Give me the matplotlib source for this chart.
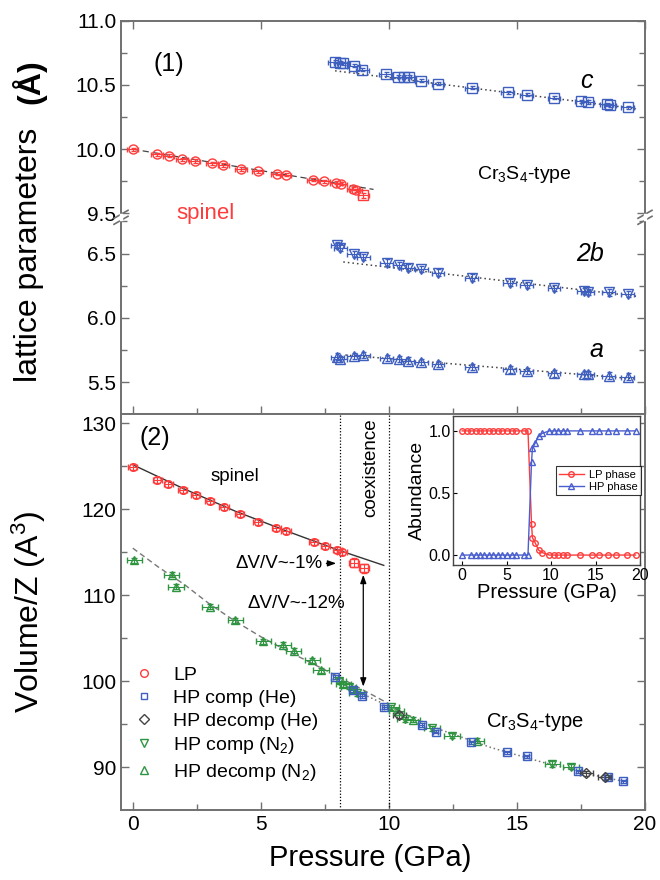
import matplotlib
matplotlib.use('Agg')
import matplotlib.pyplot as plt
from matplotlib.lines import Line2D
from matplotlib.ticker import MultipleLocator, FormatStrFormatter

plt.rcParams['font.family'] = ['Liberation Sans', 'DejaVu Sans']
plt.rcParams['mathtext.fontset'] = 'custom'
plt.rcParams['mathtext.rm'] = 'Liberation Sans'
plt.rcParams['mathtext.it'] = 'Liberation Sans:italic'
plt.rcParams['mathtext.bf'] = 'Liberation Sans:bold'

# ---------------- data: top panel (lattice parameters) ----------------
spinel_P = [0.0, 0.95, 1.4, 1.92, 2.42, 3.09, 3.54, 4.23, 4.88, 5.62, 5.97, 7.02, 7.48, 7.93, 8.14, 8.6, 8.72]
spinel_a = [10.0, 9.962, 9.95, 9.923, 9.908, 9.892, 9.877, 9.846, 9.828, 9.808, 9.803, 9.764, 9.751, 9.738, 9.731, 9.692, 9.682]
spinel_coex_P = [9.0]
spinel_coex_a = [9.641]
spinel_fit_P = [0.0, 9.4]
spinel_fit_a = [10.0, 9.687]

hp_P = [7.89, 8.1, 8.22, 8.63, 8.96, 9.87, 10.36, 10.6, 10.77, 11.27, 11.92, 13.24, 14.64, 15.38, 16.45, 17.52, 17.76, 18.5, 18.63, 19.33]
hp_c = [10.679, 10.674, 10.667, 10.649, 10.618, 10.585, 10.564, 10.564, 10.564, 10.533, 10.508, 10.477, 10.444, 10.423, 10.40, 10.372, 10.367, 10.349, 10.341, 10.328]
c_fit_P = [7.9, 19.65]
c_fit = [10.61, 10.315]

hp2_P = [7.98, 8.11, 8.63, 9.0, 9.92, 10.41, 10.74, 11.27, 11.92, 13.24, 14.72, 15.38, 16.45, 17.6, 17.76, 18.58, 19.33]
hp_2b = [6.565, 6.547, 6.495, 6.474, 6.43, 6.41, 6.392, 6.379, 6.353, 6.314, 6.275, 6.255, 6.234, 6.208, 6.203, 6.198, 6.185]
b_fit_P = [8.22, 19.65]
b_fit = [6.435, 6.169]

hp_a = [5.699, 5.681, 5.704, 5.712, 5.691, 5.681, 5.668, 5.66, 5.642, 5.621, 5.601, 5.59, 5.57, 5.562, 5.562, 5.552, 5.544]
a_fit_P = [8.3, 19.65]
a_fit = [5.712, 5.526]

# ---------------- data: bottom panel (volume) ----------------
lp_P = [0.0, 0.96, 1.39, 1.95, 2.46, 3.01, 3.56, 4.18, 4.87, 5.61, 5.98, 7.07, 7.52, 7.98, 8.17]
lp_V = [124.95, 123.4, 122.94, 122.24, 121.66, 120.97, 120.3, 119.45, 118.56, 117.9, 117.48, 116.24, 115.77, 115.27, 115.03]
lp_coex_P = [8.63, 9.02]
lp_coex_V = [113.8, 113.14]

he_comp_P = [7.9, 8.6, 8.96, 9.82, 11.28, 11.83, 13.22, 14.61, 15.38, 17.39, 18.54, 19.15]
he_comp_V = [100.54, 98.99, 98.33, 97.05, 94.96, 94.15, 92.91, 91.74, 91.28, 89.53, 88.9, 88.37]
he_dec_P = [10.4, 17.71, 18.43]
he_dec_V = [96.1, 89.3, 88.84]
n2_comp_P = [8.04, 8.43, 8.74, 10.1, 10.63, 11.69, 12.46, 16.38, 17.11]
n2_comp_V = [100.08, 99.38, 98.6, 96.98, 95.6, 94.57, 93.68, 90.39, 90.08]
n2_dec_P = [0.06, 1.52, 1.69, 3.01, 4.01, 5.1, 5.86, 6.28, 7.01, 7.35, 8.22, 10.3, 10.93, 13.43]
n2_dec_V = [114.1, 112.4, 111.0, 108.67, 107.1, 104.65, 104.26, 103.57, 102.48, 101.32, 99.69, 96.6, 95.54, 93.1]

lp_fit_P = [0, 2, 4, 6, 8, 9.8]
lp_fit_V = [125.2, 122.4, 119.8, 117.5, 115.3, 113.5]
hp_fit1_P = [0, 1, 2, 3, 4, 5, 6, 7, 8, 9, 10]
hp_fit1_V = [115.5, 113.3, 111.3, 109.0, 107.0, 105.2, 103.6, 102.1, 100.6, 99.0, 97.4]
hp_fit2_P = [8.1, 10, 12, 14, 16, 18, 19.3]
hp_fit2_V = [99.8, 97.1, 94.4, 92.3, 90.6, 89.1, 88.3]

# ---------------- data: inset (abundance) ----------------
ab_lp_P = [0, 0.5, 1.0, 1.5, 2.0, 2.5, 3.0, 3.5, 4.0, 4.5, 5.0, 5.6, 6.0, 7.0, 7.4, 7.8, 7.9, 8.2, 8.6, 9.0,
           9.8, 10.3, 10.8, 11.3, 11.8, 13.2, 14.6, 15.4, 16.4, 17.3, 18.5, 19.5]
ab_lp = [1, 1, 1, 1, 1, 1, 1, 1, 1, 1, 1, 1, 1, 1, 1, 0.25, 0.14, 0.10, 0.04, 0.02,
         0, 0, 0, 0, 0, 0, 0, 0, 0, 0, 0, 0]
ab_hp_P = [0, 1.0, 1.5, 2.0, 2.5, 3.0, 3.5, 4.0, 4.5, 5.0, 5.6, 6.0, 7.0, 7.4, 7.8, 7.9, 8.2, 8.6, 9.0,
           9.8, 10.3, 10.8, 11.3, 11.8, 13.2, 14.6, 15.4, 16.4, 17.3, 18.5, 19.5]
ab_hp = [0, 0, 0, 0, 0, 0, 0, 0, 0, 0, 0, 0, 0, 0, 0.75, 0.86, 0.90, 0.96, 0.98,
         1, 1, 1, 1, 1, 1, 1, 1, 1, 1, 1, 1]

coex_lines = [8.1, 10.0]

# ---------------- styling ----------------
RED = '#ff3b3b'
BLUE = '#3f5fbf'
GREEN = '#2e9440'
DARK = '#444444'
SPINE = '#707070'

W, H = 660.0, 880.0
fig = plt.figure(figsize=(6.6, 8.8), dpi=100)

def fx(px):
    return px / W

def fy(py):
    return 1 - py / H

L, R = 121, 645
T0, BRK, MID, BOT = 20.7, 217.3, 414.0, 810.0
XL = (-0.46, 20.0)

ax_up = fig.add_axes([fx(L), fy(BRK), fx(R) - fx(L), fy(T0) - fy(BRK)])
ax_lo = fig.add_axes([fx(L), fy(MID), fx(R) - fx(L), fy(BRK) - fy(MID)])
ax_v = fig.add_axes([fx(L), fy(BOT), fx(R) - fx(L), fy(MID) - fy(BOT)])

for ax in (ax_up, ax_lo, ax_v):
    ax.set_xlim(*XL)
    for s in ax.spines.values():
        s.set_color(SPINE)
        s.set_linewidth(1.4)
    ax.xaxis.set_major_locator(MultipleLocator(5))
    ax.xaxis.set_minor_locator(MultipleLocator(2.5))
    ax.tick_params(which='both', direction='in', color=SPINE, width=1.0, labelsize=15, right=True)
    ax.tick_params(which='major', length=6)
    ax.tick_params(which='minor', length=4)

ax_up.set_ylim(9.47, 11.0)
ax_lo.set_ylim(5.254, 6.782)
ax_v.set_ylim(85.05, 131.1)

ax_up.spines['bottom'].set_visible(False)
ax_lo.spines['top'].set_visible(False)
ax_up.tick_params(axis='x', which='both', bottom=False, top=True, labelbottom=False)
ax_up.tick_params(axis='x', which='minor', top=False)
ax_lo.tick_params(axis='x', which='both', bottom=True, top=False, labelbottom=False)
ax_v.tick_params(axis='x', which='both', top=False, bottom=True, labelbottom=True)

for ax in (ax_up, ax_lo):
    ax.yaxis.set_major_locator(MultipleLocator(0.5))
    ax.yaxis.set_minor_locator(MultipleLocator(0.25))
    ax.yaxis.set_major_formatter(FormatStrFormatter('%.1f'))
ax_v.yaxis.set_major_locator(MultipleLocator(10))
ax_v.yaxis.set_minor_locator(MultipleLocator(5))

# ---------------- top panel ----------------
eb = dict(capsize=1.8, elinewidth=0.8, capthick=0.8, mew=1.0, mfc='none', ms=6.5, ls='none')
ax_up.plot(spinel_fit_P, spinel_fit_a, color=DARK, ls=(0, (5, 3)), lw=0.9)
ax_up.errorbar(spinel_P, spinel_a, xerr=0.22, yerr=0.012, fmt='o', color=RED, **eb)
ax_up.errorbar(spinel_coex_P, spinel_coex_a, xerr=0.22, yerr=0.02, fmt='s', color=RED, **eb)
ax_up.plot(c_fit_P, c_fit, color=DARK, ls=(0, (1, 2)), lw=1.1)
ax_up.errorbar(hp_P, hp_c, xerr=0.25, yerr=0.012, fmt='s', color=BLUE, **eb)
ax_lo.plot(b_fit_P, b_fit, color=DARK, ls=(0, (1, 2)), lw=1.1)
ax_lo.errorbar(hp2_P, hp_2b, xerr=0.25, yerr=0.025, fmt='v', color=BLUE, **eb)
ax_lo.plot(a_fit_P, a_fit, color=DARK, ls=(0, (1, 2)), lw=1.1)
ax_lo.errorbar(hp2_P, hp_a, xerr=0.25, yerr=0.025, fmt='^', color=BLUE, **eb)

ax_up.text(1.4, 10.66, '(1)', fontsize=18, ha='center', va='center')
ax_up.text(17.7, 10.53, 'c', fontsize=18, style='italic', ha='center', va='center')
ax_up.text(15.3, 9.80, 'Cr$_3$S$_4$-type', fontsize=14, ha='center', va='center')
ax_lo.text(17.85, 6.50, '2b', fontsize=18, style='italic', ha='center', va='center')
ax_lo.text(18.1, 5.75, 'a', fontsize=18, style='italic', ha='center', va='center')
fig.text(fx(205), fy(213), 'spinel', color=RED, fontsize=16, ha='center', va='center')

# break marks
for xp in (L, R):
    for dy in (-3, 3):
        fig.add_artist(Line2D([fx(xp - 7), fx(xp + 7)], [fy(BRK + dy + 4), fy(BRK + dy - 4)],
                              color=SPINE, lw=1.2))
    fig.add_artist(Line2D([fx(xp), fx(xp)], [fy(BRK - 2), fy(BRK + 2)], color='white', lw=2.5))

# ---------------- bottom panel ----------------
for xc in coex_lines:
    ax_v.axvline(xc, color='black', ls=(0, (1, 1.5)), lw=0.9)
ax_v.plot(lp_fit_P, lp_fit_V, color='#333333', lw=1.0)
ax_v.plot(hp_fit1_P, hp_fit1_V, color='#777777', ls=(0, (4, 2.5)), lw=1.0)
ax_v.plot(hp_fit2_P, hp_fit2_V, color='#777777', ls=(0, (1, 1.8)), lw=1.1)

eb2 = dict(capsize=2.0, elinewidth=0.8, capthick=0.8, mew=1.0, mfc='none', ms=5.5, ls='none')
ax_v.errorbar(lp_P, lp_V, xerr=0.18, yerr=0.35, fmt='o', color=RED, **eb2)
ax_v.errorbar(lp_coex_P, lp_coex_V, xerr=0.2, yerr=0.5, fmt='s', color=RED, **eb2)
ax_v.errorbar(n2_dec_P, n2_dec_V, xerr=0.3, yerr=0.3, fmt='^', color=GREEN, **eb2)
ax_v.errorbar(n2_comp_P, n2_comp_V, xerr=0.3, yerr=0.3, fmt='v', color=GREEN, **eb2)
ax_v.errorbar(he_comp_P, he_comp_V, xerr=0.1, yerr=0.2, fmt='s', color=BLUE, **eb2)
ax_v.errorbar(he_dec_P, he_dec_V, xerr=0.25, yerr=0.3, fmt='D', color=DARK, **eb2)

ax_v.text(0.87, 128.3, '(2)', fontsize=18, ha='center', va='center')
ax_v.text(4.0, 123.8, 'spinel', fontsize=13.5, ha='center', va='center')
ax_v.text(9.3, 124.8, 'coexistence', fontsize=13.5, rotation=90, ha='center', va='center')
ax_v.text(7.4, 113.73, 'ΔV/V~-1%', fontsize=13.5, ha='right', va='center')
ax_v.annotate('', xy=(8.05, 113.73), xytext=(7.45, 113.73),
              arrowprops=dict(arrowstyle='-|>,head_length=0.5,head_width=0.18', color='black', lw=0.9))
ax_v.text(6.4, 109.07, 'ΔV/V~-12%', fontsize=13.5, ha='center', va='center')
ax_v.annotate('', xy=(9.0, 99.4), xytext=(9.0, 112.4),
              arrowprops=dict(arrowstyle='<|-|>,head_length=0.5,head_width=0.18', color='black', lw=0.9,
                              shrinkA=0, shrinkB=0))
ax_v.text(15.7, 95.3, 'Cr$_3$S$_4$-type', fontsize=14.5, ha='center', va='center')

handles = [
    Line2D([], [], marker='o', ls='none', mfc='none', mec=RED, ms=5.5),
    Line2D([], [], marker='s', ls='none', mfc='none', mec=BLUE, ms=5),
    Line2D([], [], marker='D', ls='none', mfc='none', mec=DARK, ms=5),
    Line2D([], [], marker='v', ls='none', mfc='none', mec=GREEN, ms=5.5),
    Line2D([], [], marker='^', ls='none', mfc='none', mec=GREEN, ms=5.5),
]
labels = ['LP', 'HP comp (He)', 'HP decomp (He)', 'HP comp (N$_2$)', 'HP decomp (N$_2$)']
ax_v.legend(handles, labels, loc='lower left', bbox_to_anchor=(0.0, 0.035), frameon=False,
            fontsize=14, handlelength=1.0, handletextpad=1.0, labelspacing=0.28, borderaxespad=0.3)

ax_v.set_xlabel('Pressure (GPa)', fontsize=21, labelpad=7)
ax_v.xaxis.set_label_coords(0.475, -0.085)

fig.text(fx(29), fy(255), 'lattice parameters', fontsize=23, rotation=90, ha='center', va='center')
fig.text(fx(29), fy(82), '(Å)', fontsize=23, rotation=90, ha='center', va='center', fontweight='bold')
fig.text(fx(29), fy(612), 'Volume/Z (A$^3$)', fontsize=23, rotation=90, ha='center', va='center')

# ---------------- inset ----------------
ax_in = fig.add_axes([fx(453.3), fy(565), fx(640) - fx(453.3), fy(416) - fy(565)])
ax_in.plot(ab_lp_P, ab_lp, color=RED, marker='o', mfc='none', ms=4, lw=1.0, label='LP phase')
ax_in.plot(ab_hp_P, ab_hp, color='#4a5fcf', marker='^', mfc='none', ms=4, lw=1.0, label='HP phase')
ax_in.set_xlim(-1, 20)
ax_in.set_ylim(-0.08, 1.12)
ax_in.xaxis.set_major_locator(MultipleLocator(5))
ax_in.yaxis.set_major_locator(MultipleLocator(0.5))
ax_in.yaxis.set_major_formatter(FormatStrFormatter('%.1f'))
for s in ax_in.spines.values():
    s.set_color('#444444')
    s.set_linewidth(1.0)
ax_in.tick_params(direction='in', length=3, labelsize=11.5, pad=2)
ax_in.set_xlabel('Pressure (GPa)', fontsize=14.5, labelpad=0)
ax_in.set_ylabel('Abundance', fontsize=14, labelpad=2)
leg = ax_in.legend(loc='upper left', bbox_to_anchor=(0.52, 0.70), fontsize=8, frameon=True,
                   fancybox=False, handlelength=2.2, borderpad=0.3, labelspacing=0.2, handletextpad=0.5)
leg.get_frame().set_edgecolor('black')
leg.get_frame().set_linewidth(0.8)

fig.savefig('out.png', dpi=100)
